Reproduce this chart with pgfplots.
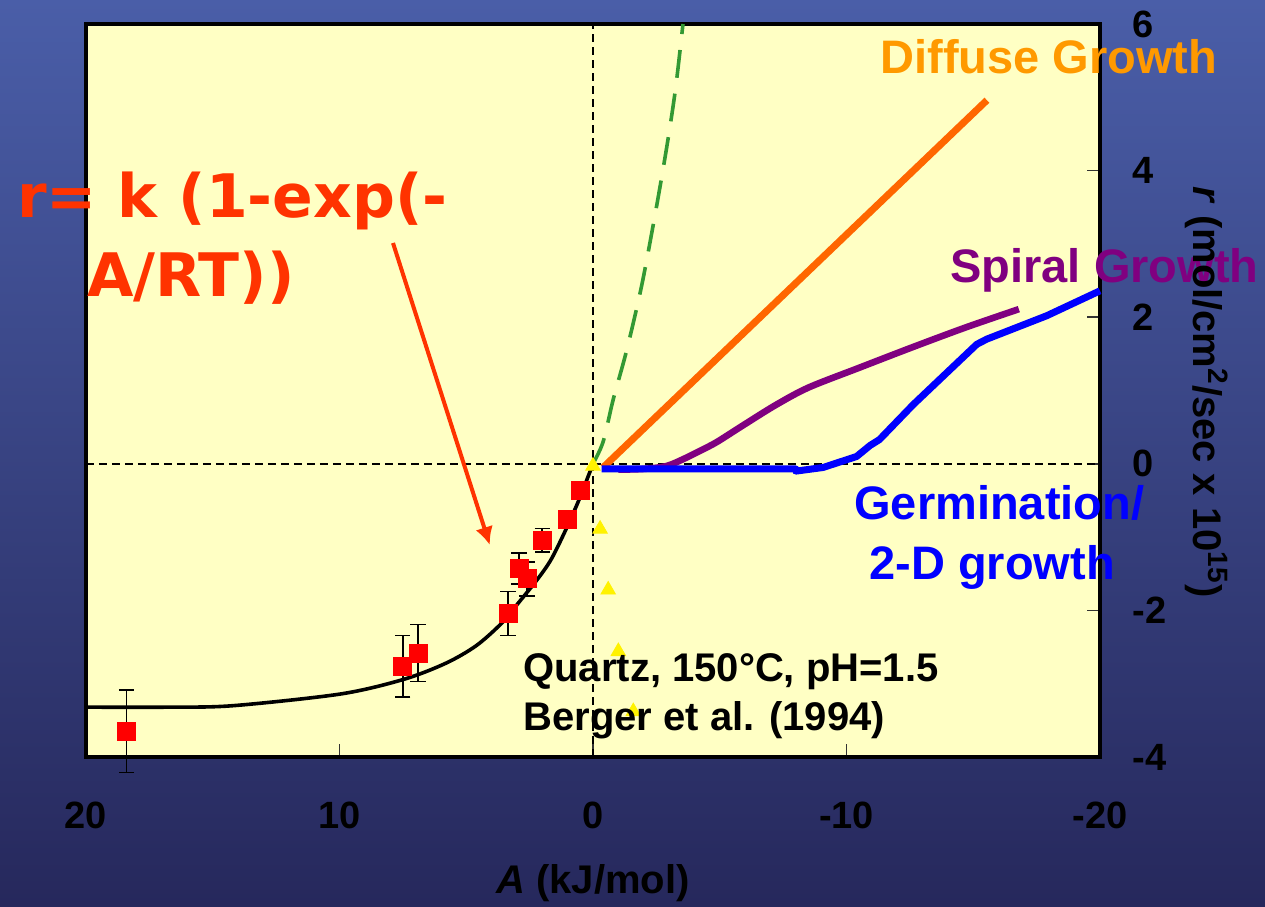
\documentclass[border=0pt]{standalone}
\usepackage{fontspec}
\setmainfont{Liberation Sans}
\newfontfamily\dejavu{DejaVu Sans}
\usepackage{pgfplots}
\pgfplotsset{compat=1.18}
\usetikzlibrary{arrows.meta}
\definecolor{plotbg}{RGB}{255,255,196}
\definecolor{bgtop}{RGB}{74,94,168}
\definecolor{bgmid}{RGB}{50,62,136}
\definecolor{bgbot}{RGB}{38,40,92}
\definecolor{formred}{RGB}{255,51,0}
\definecolor{diffor}{RGB}{255,153,0}
\definecolor{lineor}{RGB}{255,102,0}
\definecolor{spurple}{RGB}{128,0,128}
\definecolor{germblue}{RGB}{0,0,255}
\definecolor{dgreen}{RGB}{51,153,51}
\begin{document}
\begin{tikzpicture}
\useasboundingbox (-43pt,-74.5pt) rectangle (589.5pt,378.5pt);
\shade[top color=bgtop, middle color=bgmid, bottom color=bgbot] (-43pt,-74.5pt) rectangle (589.5pt,378.5pt);
\begin{axis}[
  scale only axis, width=507pt, height=366.5pt,
  xmin=-20, xmax=20, ymin=-4, ymax=6, x dir=reverse,
  axis background/.style={fill=plotbg},
  axis line style={line width=1.6pt, black},
  xtick={-20,-10,0,10,20}, xticklabels={-20,-10,0,10,20},
  ytick={-4,-2,0,2,4,6}, yticklabels={-4,-2,0,2,4,6},
  xtick pos=bottom, ytick pos=right, yticklabel pos=right,
  tick align=inside,
  major tick length=6.5pt,
  tick style={line width=0.8pt, black!80},
  xticklabel style={font=\bfseries\fontsize{19}{22}\selectfont, anchor=center, yshift=-29pt},
  yticklabel style={font=\bfseries\fontsize{19}{22}\selectfont, anchor=west, inner sep=0pt, xshift=16pt},
  clip=false,
]
% dashed reference lines
\addplot[black, line width=1pt, dash pattern=on 4pt off 2.5pt] coordinates {(20,0) (-20,0)};
\addplot[black, line width=1pt, dash pattern=on 4pt off 2.5pt] coordinates {(0,-4) (0,6)};
% fit curve
\addplot[black, line width=1.8pt, smooth] coordinates {
(20,-3.32) (16.7,-3.32) (14.2,-3.30) (9.95,-3.14) (7.46,-2.94) (5.8,-2.72)
(4.6,-2.48) (3.59,-2.17) (2.9,-1.88) (2.2,-1.58) (1.66,-1.31) (1.1,-0.92) (0.55,-0.49) (0,0)};
% green dashed
\addplot[dgreen, line width=1.8pt, dash pattern=on 14pt off 8pt, smooth] coordinates {
(0,0) (-0.4,0.3) (-0.8,0.88) (-1.33,1.55) (-1.92,2.43) (-2.45,3.4) (-2.9,4.3) (-3.25,5.1) (-3.55,6)};
% diffuse growth
\addplot[lineor, line width=3.5pt] coordinates {(-0.4,-0.05) (-15.54,4.96)};
% spiral growth
\addplot[spurple, line width=3.3pt, line join=round, smooth] coordinates {
(-1.0,-0.08) (-2.0,-0.07) (-2.9,-0.03) (-3.6,0.07) (-4.3,0.19) (-4.9,0.3) (-5.9,0.52)
(-7.2,0.8) (-8.5,1.04) (-10.5,1.31) (-12.6,1.59) (-14.7,1.86) (-16.8,2.11)};
% germination / 2-D growth
\addplot[germblue, line width=3.5pt, line join=round] coordinates {
(-0.34,-0.07) (-8.0,-0.07) (-8.0,-0.1) (-9.08,-0.05) (-10.4,0.1) (-10.93,0.25) (-11.3,0.33)
(-12.64,0.81) (-13.95,1.24) (-15.14,1.63) (-15.53,1.70) (-17.9,2.02) (-20,2.36)};
% yellow triangles
\addplot[only marks, mark=triangle*, mark size=4.2pt, color=yellow, mark options={fill=yellow, draw=yellow}] coordinates {
(0,-0.03) (-0.28,-0.89) (-0.6,-1.72) (-1.0,-2.56) (-1.59,-3.38)};
% data with error bars
\addplot[only marks, mark=square*, mark size=4.5pt, color=red, mark options={fill=red, draw=red},
  error bars/.cd, y dir=both, y explicit,
  error bar style={black, line width=0.8pt},
  error mark options={rotate=90, black, mark size=3.8pt, line width=0.8pt}] coordinates {
(18.4,-3.65) +- (0,0.56)
(7.5,-2.76) +- (0,0.42)
(6.9,-2.58) +- (0,0.39)
(3.35,-2.04) +- (0,0.30)
(2.92,-1.43) +- (0,0.21)
(2.6,-1.57) +- (0,0.23)
(2.0,-1.04) +- (0,0.16)
(1.0,-0.76) +- (0,0.08)
(0.49,-0.36) +- (0,0)};
\end{axis}
% annotations (origin = lower left corner of the plot area, 1px = 0.5pt)
\node[anchor=base west, inner sep=0pt, text=formred, font={\dejavu\bfseries\fontsize{30}{36}\selectfont}] at (-34.65pt,269.5pt) {r= k (1-exp(-};
\node[anchor=base west, inner sep=0pt, text=formred, font={\dejavu\bfseries\fontsize{30}{36}\selectfont}] at (0.35pt,230.15pt) {A/RT))};
\draw[formred, line width=2pt, -{Latex[length=9pt, width=9pt]}] (153.5pt,257pt) -- (201.9pt,106pt);
\node[anchor=base west, inner sep=0pt, text=diffor, font={\bfseries\fontsize{23.5}{28}\selectfont}] at (397pt,341.5pt) {Diffuse Growth};
\node[anchor=base west, inner sep=0pt, text=spurple, font={\bfseries\fontsize{23.5}{28}\selectfont}] at (432pt,237pt) {Spiral Growth};
\node[anchor=base west, inner sep=0pt, text=germblue, font={\bfseries\fontsize{23.5}{28}\selectfont}] at (384pt,118.5pt) {Germination/};
\node[anchor=base west, inner sep=0pt, text=germblue, font={\bfseries\fontsize{23.5}{28}\selectfont}] at (391.5pt,88.5pt) {2-D growth};
\node[anchor=base west, inner sep=0pt, text=black, font={\bfseries\fontsize{20}{24}\selectfont}] at (218.5pt,37.65pt) {Quartz, 150°C, pH=1.5};
\node[anchor=base west, inner sep=0pt, text=black, font={\bfseries\fontsize{20}{24}\selectfont}] at (218.5pt,13.15pt) {Berger et al. (1994)};
\node[anchor=base, inner sep=0pt, text=black, font={\bfseries\fontsize{20}{24}\selectfont}] at (253.5pt,-68pt) {\textit{A} (kJ/mol)};
\node[rotate=-90, anchor=center, inner sep=0pt, text=black, font={\bfseries\fontsize{20}{24}\selectfont}] at (560.5pt,182.5pt) {\textit{r} (mol/cm\textsuperscript{2}/sec x 10\textsuperscript{15})};
\end{tikzpicture}
\end{document}
